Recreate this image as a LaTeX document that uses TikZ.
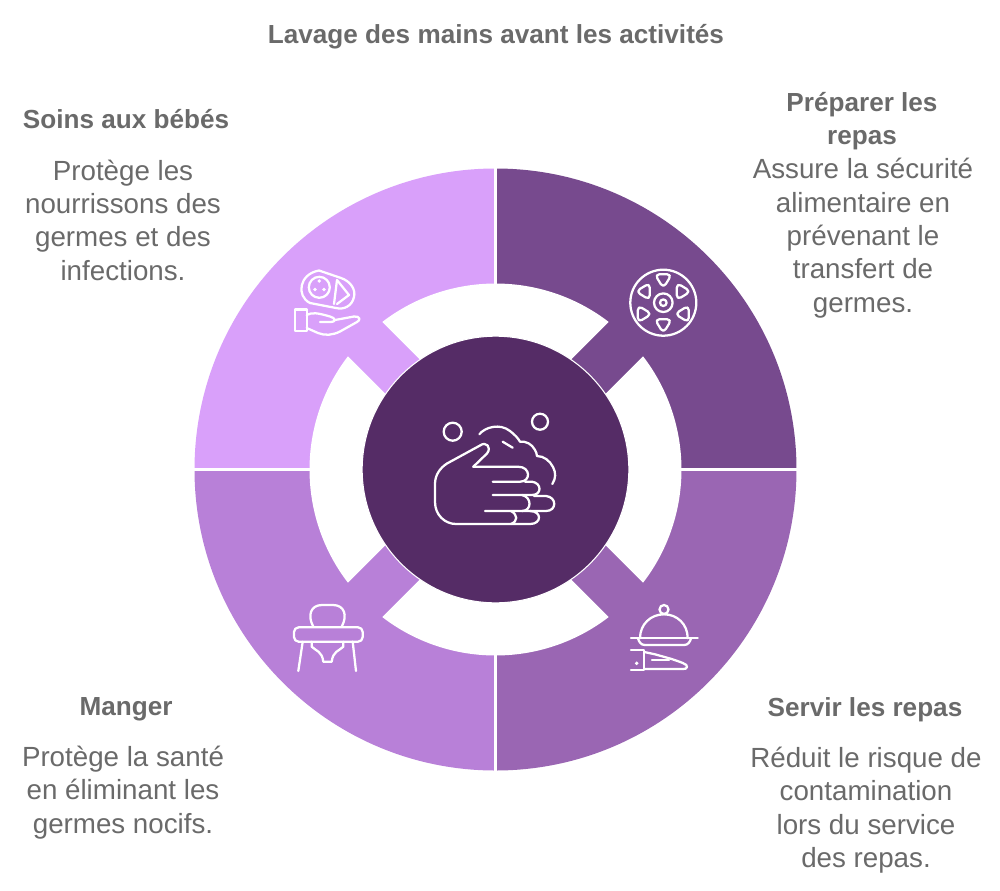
\documentclass[tikz,border=0pt]{standalone}
\usepackage{fontspec}
\setmainfont{Liberation Sans}
\definecolor{tl}{HTML}{D9A0FA}
\definecolor{tr}{HTML}{774A8E}
\definecolor{br}{HTML}{9A66B3}
\definecolor{bl}{HTML}{B880D8}
\definecolor{core}{HTML}{552C66}
\definecolor{txt}{HTML}{6A6A6A}
\tikzset{
  icon/.style={draw=white,line width=1.7pt,line cap=round,line join=round,fill=none},
  head/.style={text=txt,align=center,font=\fontsize{19.6pt}{25pt}\selectfont\bfseries,inner sep=0pt},
  body/.style={text=txt,align=center,font=\fontsize{20.8pt}{25pt}\selectfont,inner sep=0pt},
}
\begin{document}
\begin{tikzpicture}[x=.75pt,y=-.75pt]
\useasboundingbox (0,0) rectangle (1000,890);
\begin{scope}[shift={(495.5,469.5)}]
  \fill[tr] (0,0) -- (-90:301) arc[start angle=-90,end angle=0,radius=301] -- cycle;
  \fill[br] (0,0) -- (0:301) arc[start angle=0,end angle=90,radius=301] -- cycle;
  \fill[bl] (0,0) -- (90:301) arc[start angle=90,end angle=180,radius=301] -- cycle;
  \fill[tl] (0,0) -- (180:301) arc[start angle=180,end angle=270,radius=301] -- cycle;
  \draw[white,line width=2.2pt] (-305,0) -- (305,0) (0,-305) -- (0,305);
  \foreach \a in {0,90,180,270}{
    \fill[white] (\a-37.5:186) arc[start angle=\a-37.5,end angle=\a+37.5,radius=186] -- (\a:34.5) -- cycle;
  }
  \node[circle,fill=core,draw=white,line width=.8pt,minimum size=200pt,inner sep=0pt] (disc) at (0,0) {};
\end{scope}

% hand icon
\draw[icon] (452.7,431.7) circle[radius=9];
\draw[icon] (540,421.7) circle[radius=8];
\draw[icon] (479.3,434.3) .. controls (485,427) and (500,423) .. (510,431)
  .. controls (515,435) and (518,438) .. (520,441.7)
  .. controls (526,441) and (532,444) .. (535,450)
  .. controls (536,452) and (537,454) .. (537,456)
  .. controls (544,456) and (550,461) .. (553,467)
  .. controls (556,473) and (556,478) .. (552.3,484);
\draw[icon] (502.7,441.7) -- (512.7,447.7);
\draw[icon] (473.3,466.7) -- (487,453.5) .. controls (492,447) and (486,441) .. (480,445.5)
  -- (447,463.5) .. controls (440,468) and (435,475) .. (435,484) -- (435,502)
  .. controls (435,515) and (445,524) .. (456,524) -- (530,524)
  .. controls (542,524) and (542,511) .. (530,511);
\draw[icon] (473.3,466.7) -- (518,466.7) .. controls (531,466.7) and (531,481.7) .. (520,481.7) -- (492.7,481.7);
\draw[icon] (525,481.7) -- (532,481.7) .. controls (542,483) and (542,495) .. (532,495) -- (492.7,495);
\draw[icon] (522,495) .. controls (532,497) and (532,511) .. (522,511) -- (485,511);
\draw[icon] (534,496) -- (546,496) .. controls (557,497) and (557,511) .. (546,511) -- (522,511);
\draw[icon] (511,511) .. controls (518,515) and (518,521) .. (511,524);

% baby icon
\draw[icon] (319.3,287.3) circle[radius=10.5];
\fill[white] (319.3,281) circle[radius=1.9] (315,289.5) circle[radius=1.9] (324,289.5) circle[radius=1.9];
\draw[icon] (310,303) .. controls (296,296) and (299,274) .. (319,270.5)
  -- (341,278) .. controls (350,281) and (356,289) .. (354,297)
  .. controls (352,306) and (344,310) .. (336,308) -- cycle;
\draw[icon] (337,280) -- (334,304);
\draw[icon] (337,280) -- (349,295) -- (337,304);
\draw[icon] (295,309.5) rectangle (306.7,330.7);
\draw[icon] (306.7,315) .. controls (312,312) and (318,313) .. (330,316.5)
  .. controls (336,318) and (336,322) .. (331,322) -- (320,322);
\draw[icon] (335,320) -- (354,316.5) .. controls (360,316) and (361,320) .. (357,322)
  -- (340,331.5) .. controls (333,335) and (325,336) .. (318,333) -- (306.7,328);

% plate icon
\draw[icon] (663.3,302.7) circle[radius=33];
\draw[icon] (663.3,302.7) circle[radius=9.3];
\draw[icon] (663.3,302.7) circle[radius=3.3];
\foreach \ang/\apx in {-90/-90,-30/0,30/180,90/-90,150/0,210/180}{
  \begin{scope}[shift={(663.3,302.7)},shift={(\ang:22.5)},rotate=\apx]
    \draw[icon,rounded corners=3.6pt] (8,0) -- (-6,-8.5) -- (-6,8.5) -- cycle;
  \end{scope}
}

% cloche icon
\draw[icon] (664,609.5) circle[radius=4.5];
\draw[icon] (640,638.3) .. controls (640,624) and (651,614.3) .. (664,614.3) .. controls (677,614.3) and (687.7,624) .. (687.7,638.3);
\draw[icon] (631,638.3) -- (697.7,638.3);
\draw[icon] (638,638.3) .. controls (639,642) and (641,645) .. (645,645) -- (684,645) .. controls (688,645) and (690,642) .. (691,638.3);
\draw[icon] (631,650) -- (644.3,650) -- (644.3,670) -- (631,670);
\fill[white] (636.7,663.3) circle[radius=1.9];
\draw[icon] (644.3,652) -- (655,654.3) -- (671.7,659) .. controls (680,662) and (688,664) .. (687,667) .. controls (687,669) and (685,669) .. (682,669) -- (644.3,669);
\draw[icon] (652,660) -- (669,660);

% chair icon
\draw[icon] (313.3,626.7) .. controls (307,615) and (311,605) .. (322,605) -- (333,605) .. controls (344,605) and (348,615) .. (341.7,626.7);
\draw[icon,rounded corners=3.5pt] (294,627.3) rectangle (362.7,641.7);
\draw[icon] (302.7,641.7) -- (298.3,671);
\draw[icon] (352.7,641.7) -- (356,671);
\draw[icon] (311.7,641.7) -- (311.7,646.7) .. controls (316,651) and (322,651) .. (323.3,661.7) -- (331.7,661.7) .. controls (333,651) and (339,651) .. (343.3,646.7) -- (343.3,641.7);

% texts
\node[head] (title) at (496,37) {Lavage des mains avant les activités};
\node[head] (h1) at (126,119) {Soins aux bébés};
\node[body] (b1) at (123,220) {Protège les\\nourrissons des\\germes et des\\infections.};
\node[head] (h2) at (862,121) {Préparer les\\repas};
\node[body] (b2) at (863,238) {Assure la sécurité\\alimentaire en\\prévenant le\\transfert de\\germes.};
\node[head] (h3) at (126,709) {Manger};
\node[body] (b3) at (123,792.5) {Protège la santé\\en éliminant les\\germes nocifs.};
\node[head] (h4) at (865,710) {Servir les repas};
\node[body] (b4) at (866,810) {Réduit le risque de\\contamination\\lors du service\\des repas.};
\end{tikzpicture}
\end{document}
